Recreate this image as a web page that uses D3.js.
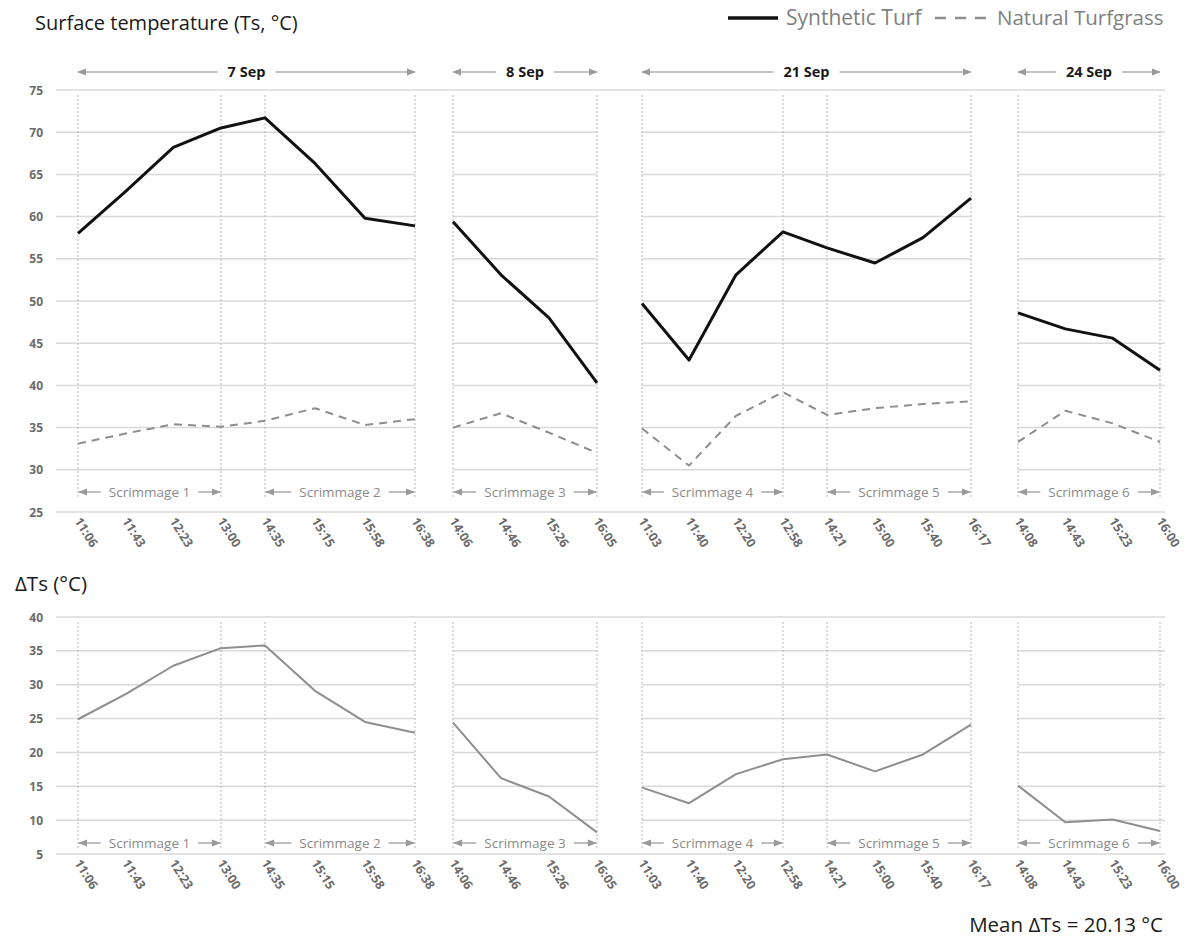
<!DOCTYPE html>
<html>
<head>
<meta charset="utf-8">
<style>
  body { margin: 0; background: #fff; }
  text { font-family: "Open Sans", "Noto Sans", sans-serif; }
</style>
</head>
<body>
<script src="https://cdn.jsdelivr.net/npm/d3@7"></script>
<script>
// time of each measurement, all four days in a row
var times = ["11:06","11:43","12:23","13:00","14:35","15:15","15:58","16:38",
             "14:06","14:46","15:26","16:05",
             "11:03","11:40","12:20","12:58","14:21","15:00","15:40","16:17",
             "14:08","14:43","15:23","16:00"];
var dayLabels = ["7 Sep","8 Sep","21 Sep","24 Sep"];
var dayStart = [0, 8, 12, 20];
var dayEnd   = [7, 11, 19, 23];
var scrimLabels = ["Scrimmage 1","Scrimmage 2","Scrimmage 3","Scrimmage 4","Scrimmage 5","Scrimmage 6"];
var scrimStart = [0, 4, 8, 12, 16, 20];
var scrimEnd   = [3, 7, 11, 15, 19, 23];

var synthetic = [58.0, 63.0, 68.2, 70.5, 71.7, 66.3, 59.8, 58.9,
                 59.4, 53.1, 48.0, 40.3,
                 49.7, 43.0, 53.1, 58.2, 56.3, 54.5, 57.5, 62.2,
                 48.6, 46.7, 45.6, 41.8];
var natural   = [33.1, 34.3, 35.4, 35.1, 35.8, 37.3, 35.3, 36.0,
                 35.0, 36.7, 34.4, 32.0,
                 34.9, 30.5, 36.4, 39.2, 36.5, 37.3, 37.8, 38.1,
                 33.3, 37.0, 35.5, 33.3];
var deltaTs   = [24.9, 28.6, 32.8, 35.4, 35.8, 29.1, 24.5, 22.9,
                 24.4, 16.2, 13.5, 8.2,
                 14.8, 12.5, 16.8, 19.0, 19.7, 17.2, 19.7, 24.1,
                 15.1, 9.7, 10.1, 8.4];
var topTicks = [25, 30, 35, 40, 45, 50, 55, 60, 65, 70, 75];
var botTicks = [5, 10, 15, 20, 25, 30, 35, 40];

var width = 1200, height = 950;
var svg = d3.select("body").append("svg")
    .attr("width", width).attr("height", height);

var defs = svg.append("defs");
defs.append("marker")
    .attr("id", "arr")
    .attr("viewBox", "0 0 10 10")
    .attr("refX", 9).attr("refY", 5)
    .attr("markerWidth", 9).attr("markerHeight", 9)
    .attr("markerUnits", "userSpaceOnUse")
    .attr("orient", "auto-start-reverse")
    .append("path").attr("d", "M0,1 L10,5 L0,9 Z").attr("fill", "#9a9a9a");

// each day (and scrimmage) was pasted in as its own panel, so spacing varies a little
var x = d3.scaleLinear()
    .domain([0, 3, 4, 7, 8, 11, 12, 15, 16, 19, 20, 23])
    .range([78, 221, 265, 415, 453, 597, 642, 783, 827, 971, 1018, 1160]);
var idx = d3.range(times.length);

function panel(cfg) {
  var g = svg.append("g");
  var y = cfg.y;
  var y0 = y.range()[0], y1 = y.range()[1];

  // gridlines: the top one and the base run across, the rest stop between days
  cfg.ticks.forEach(function (t, i) {
    if (i === 0 || i === cfg.ticks.length - 1) {
      g.append("line").attr("x1", 56).attr("x2", 1165)
        .attr("y1", y(t)).attr("y2", y(t))
        .attr("stroke", "#d9d9d9").attr("stroke-width", 1.5);
    } else {
      dayStart.forEach(function (s, d) {
        var a = d === 0 ? 56 : x(s);
        var b = d === dayStart.length - 1 ? 1165 : x(dayEnd[d]);
        g.append("line").attr("x1", a).attr("x2", b)
          .attr("y1", y(t)).attr("y2", y(t))
          .attr("stroke", "#d9d9d9").attr("stroke-width", 1.5);
      });
    }
  });

  // y tick labels
  g.selectAll(".yl").data(cfg.ticks).enter().append("text")
    .attr("x", 43).attr("y", function (d) { return y(d) + 4.5; })
    .attr("text-anchor", "end")
    .attr("font-size", 12).attr("font-weight", "bold")
    .attr("fill", "#6b6b6b")
    .text(function (d) { return d; });

  // x tick labels, rotated
  g.selectAll(".xl").data(idx).enter().append("text")
    .attr("transform", function (i) {
      return "translate(" + (x(i) - 4) + "," + (y0 + 9) + ") rotate(58)";
    })
    .attr("font-size", 12.5).attr("font-weight", "bold")
    .attr("fill", "#6b6b6b")
    .text(function (i) { return times[i]; });

  // dotted scrimmage boundaries
  var bounds = [];
  scrimStart.forEach(function (s, k) { bounds.push(s); bounds.push(scrimEnd[k]); });
  var cy = y0 - cfg.labelOff;
  g.selectAll(".vl").data(bounds).enter().append("line")
    .attr("x1", function (i) { return x(i); }).attr("x2", function (i) { return x(i); })
    .attr("y1", y1 + 5).attr("y2", cy + 5)
    .attr("stroke", "#b5b5b5").attr("stroke-width", 1)
    .attr("stroke-dasharray", "2,2");

  // scrimmage labels with arrows
  scrimLabels.forEach(function (lab, k) {
    var a = x(scrimStart[k]), b = x(scrimEnd[k]);
    var t = g.append("text")
      .attr("x", (a + b) / 2).attr("y", cy + 5)
      .attr("text-anchor", "middle")
      .attr("font-size", 13.5).attr("fill", "#8a8a8a")
      .text(lab);
    var w = t.node().getComputedTextLength();
    g.append("line").attr("x1", (a + b) / 2 - w / 2 - 8).attr("x2", a + 1)
      .attr("y1", cy).attr("y2", cy)
      .attr("stroke", "#a8a8a8").attr("stroke-width", 1.5)
      .attr("marker-end", "url(#arr)");
    g.append("line").attr("x1", (a + b) / 2 + w / 2 + 8).attr("x2", b - 1)
      .attr("y1", cy).attr("y2", cy)
      .attr("stroke", "#a8a8a8").attr("stroke-width", 1.5)
      .attr("marker-end", "url(#arr)");
  });

  // one path per day for each series
  cfg.series.forEach(function (s) {
    dayStart.forEach(function (st, d) {
      var pts = d3.range(st, dayEnd[d] + 1);
      g.append("path")
        .datum(pts)
        .attr("fill", "none")
        .attr("stroke", s.color)
        .attr("stroke-width", s.width)
        .attr("stroke-dasharray", s.dash || null)
        .attr("stroke-linejoin", "round")
        .attr("d", d3.line()
          .x(function (i) { return x(i); })
          .y(function (i) { return y(s.values[i]); }));
    });
  });
}

var yTop = d3.scaleLinear().domain([25, 75]).range([512, 90]);
var yBot = d3.scaleLinear().domain([5, 40]).range([854, 617]);

panel({ y: yTop, ticks: topTicks, labelOff: 20, series: [
  { values: natural, color: "#8e8e8e", width: 2, dash: "8,6" },
  { values: synthetic, color: "#111", width: 3 }
]});
panel({ y: yBot, ticks: botTicks, labelOff: 11, series: [
  { values: deltaTs, color: "#8e8e8e", width: 2 }
]});

// day headers with arrows
dayLabels.forEach(function (lab, d) {
  var a = x(dayStart[d]), b = x(dayEnd[d]);
  var cy = 72;
  var t = svg.append("text")
    .attr("x", (a + b) / 2).attr("y", cy + 5)
    .attr("text-anchor", "middle")
    .attr("font-size", 14.5).attr("font-weight", "bold").attr("fill", "#1a1a1a")
    .text(lab);
  var w = t.node().getComputedTextLength();
  svg.append("line").attr("x1", (a + b) / 2 - w / 2 - 10).attr("x2", a)
    .attr("y1", cy).attr("y2", cy)
    .attr("stroke", "#b0b0b0").attr("stroke-width", 1.5)
    .attr("marker-end", "url(#arr)");
  svg.append("line").attr("x1", (a + b) / 2 + w / 2 + 10).attr("x2", b)
    .attr("y1", cy).attr("y2", cy)
    .attr("stroke", "#b0b0b0").attr("stroke-width", 1.5)
    .attr("marker-end", "url(#arr)");
});

// titles
svg.append("text").attr("x", 35).attr("y", 30)
  .attr("font-size", 20).attr("fill", "#1a1a1a")
  .text("Surface temperature (Ts, °C)");
svg.append("text").attr("x", 15).attr("y", 591)
  .attr("font-size", 20.5).attr("fill", "#1a1a1a")
  .text("ΔTs (°C)");
svg.append("text").attr("x", 1163).attr("y", 932)
  .attr("text-anchor", "end")
  .attr("font-size", 20.5).attr("fill", "#1a1a1a")
  .text("Mean ΔTs = 20.13 °C");

// legend
svg.append("line").attr("x1", 728).attr("x2", 778).attr("y1", 18).attr("y2", 18)
  .attr("stroke", "#111").attr("stroke-width", 3.5);
svg.append("text").attr("x", 786).attr("y", 25)
  .attr("font-size", 21).attr("fill", "#7f7f7f").text("Synthetic Turf");
svg.append("line").attr("x1", 935).attr("x2", 992).attr("y1", 18).attr("y2", 18)
  .attr("stroke", "#8e8e8e").attr("stroke-width", 2.5)
  .attr("stroke-dasharray", "11,9");
svg.append("text").attr("x", 997).attr("y", 25)
  .attr("font-size", 20.5).attr("fill", "#7f7f7f").text("Natural Turfgrass");
</script>
</body>
</html>
